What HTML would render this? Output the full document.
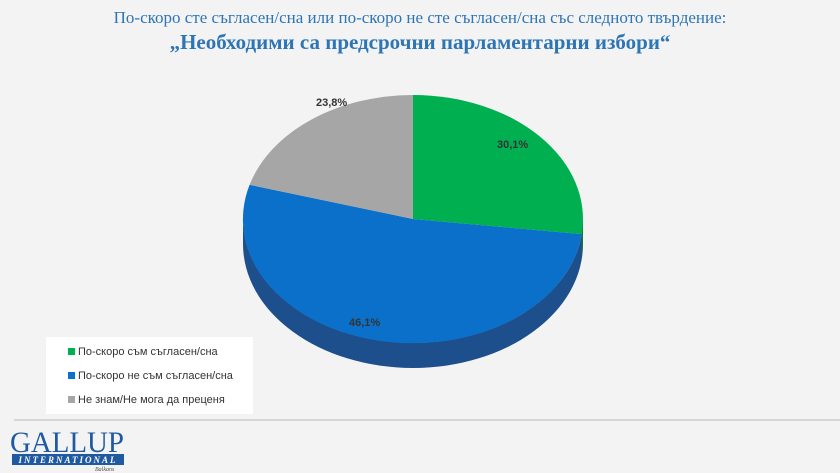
<!DOCTYPE html>
<html><head><meta charset="utf-8"><style>
body{margin:0;width:840px;height:473px;background:#f3f3f3;font-family:"Liberation Sans","DejaVu Sans",sans-serif;overflow:hidden;position:relative}
.t1{position:absolute;top:8px;left:0;width:840px;text-align:center;font-family:"Liberation Serif","DejaVu Serif",serif;font-size:17px;color:#2e75b6}
.t2{position:absolute;top:30px;left:0;width:840px;text-align:center;font-family:"Liberation Serif","DejaVu Serif",serif;font-size:21px;font-weight:bold;color:#2e75b6}
.leg{position:absolute;left:46px;top:337px;width:207px;height:77px;background:#fff;font-size:11px;color:#333}
.leg div{position:absolute;left:22px}
.leg span{display:inline-block;width:7px;height:7px;margin-right:3px}
</style></head><body>
<div class="t1">По-скоро сте съгласен/сна или по-скоро не сте съгласен/сна със следното твърдение:</div>
<div class="t2">„Необходими са предсрочни парламентарни избори“</div>
<svg width="840" height="473" style="position:absolute;left:0;top:0">
<path d="M243,219 A170,124 0 0 0 583,219 L583,244 A170,124 0 0 1 243,244 Z" fill="#1c4f8c"/>
<path d="M583,219 L583,244 L581.7,259 L581.7,234.1 Z" fill="#0d7a3a"/>
<path d="M413,219 L413,95 A170,124 0 0 1 581.7,234.1 Z" fill="#00b050"/>
<path d="M413,219 L581.7,234.1 A170,124 0 1 1 249.6,184.8 Z" fill="#0a70c9"/>
<path d="M413,219 L249.6,184.8 A170,124 0 0 1 413,95 Z" fill="#a6a6a6"/>
<g font-size="11" font-weight="bold" fill="#333" font-family="Liberation Sans,sans-serif">
<text x="497" y="148">30,1%</text>
<text x="316" y="106">23,8%</text>
<text x="349" y="326">46,1%</text></g>
<line x1="14" y1="420" x2="840" y2="420" stroke="#ccc" stroke-width="1.5"/>
<text x="10" y="452" font-family="Liberation Serif,serif" font-size="30" fill="#1f5aa0" textLength="114" lengthAdjust="spacingAndGlyphs">GALLUP</text>
<rect x="12" y="454" width="112" height="11" fill="#1f5aa0"/>
<text x="68" y="463" text-anchor="middle" font-family="Liberation Serif,serif" font-size="9" font-style="italic" font-weight="bold" fill="#fff" letter-spacing="2">INTERNATIONAL</text>
<text x="95" y="471" font-family="Liberation Serif,serif" font-size="6" font-style="italic" fill="#555">Balkans</text>
</svg>
<div class="leg">
<div style="top:9px"><span style="background:#00b050"></span>По-скоро съм съгласен/сна</div>
<div style="top:33px"><span style="background:#0a70c9"></span>По-скоро не съм съгласен/сна</div>
<div style="top:57px"><span style="background:#a6a6a6"></span>Не знам/Не мога да преценя</div>
</div>
</body></html>
